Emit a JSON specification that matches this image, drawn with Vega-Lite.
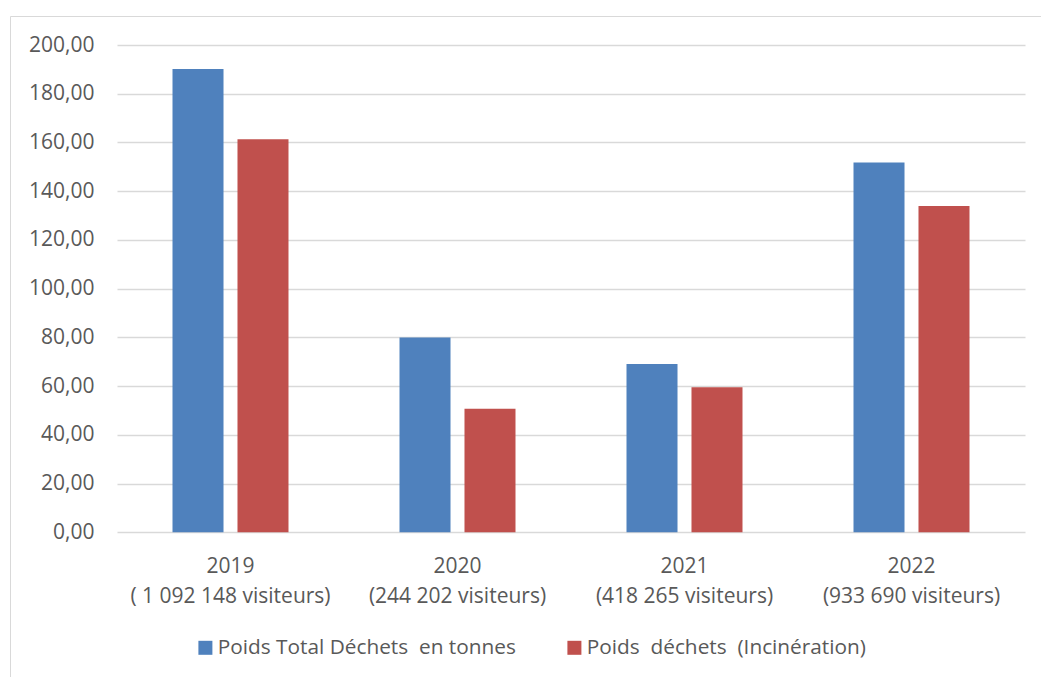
{
  "$schema": "https://vega.github.io/schema/vega-lite/v6.json",
  "autosize": "none",
  "padding": {"left": 10, "top": 16, "right": 0, "bottom": 0},
  "width": 1040,
  "height": 670,
  "background": "#ffffff",
  "data": {
    "values": [
      {"periode": "2019|( 1 092 148 visiteurs)", "serie": "Poids Total Déchets\u00a0 en tonnes", "poids": 190.1},
      {"periode": "2019|( 1 092 148 visiteurs)", "serie": "Poids\u00a0 déchets\u00a0 (Incinération)", "poids": 161.3},
      {"periode": "2020|(244 202 visiteurs)", "serie": "Poids Total Déchets\u00a0 en tonnes", "poids": 80.0},
      {"periode": "2020|(244 202 visiteurs)", "serie": "Poids\u00a0 déchets\u00a0 (Incinération)", "poids": 50.7},
      {"periode": "2021|(418 265 visiteurs)", "serie": "Poids Total Déchets\u00a0 en tonnes", "poids": 69.1},
      {"periode": "2021|(418 265 visiteurs)", "serie": "Poids\u00a0 déchets\u00a0 (Incinération)", "poids": 59.5},
      {"periode": "2022|(933 690 visiteurs)", "serie": "Poids Total Déchets\u00a0 en tonnes", "poids": 151.8},
      {"periode": "2022|(933 690 visiteurs)", "serie": "Poids\u00a0 déchets\u00a0 (Incinération)", "poids": 133.9}
    ]
  },
  "mark": {"type": "bar"},
  "encoding": {
    "x": {
      "field": "periode",
      "type": "nominal",
      "sort": null,
      "scale": {"type": "band", "range": [107, 1015], "paddingInner": 0.489, "paddingOuter": 0.2445},
      "axis": {
        "title": null,
        "orient": "bottom",
        "offset": -154,
        "domain": false,
        "ticks": false,
        "labelAngle": 0,
        "labelExpr": "split(datum.label, '|')",
        "labelBaseline": "alphabetic",
        "labelPadding": 40,
        "labelLineHeight": 30,
        "labelLimit": 0,
        "labelFontSize": 21,
        "labelColor": "#595959",
        "labelFont": "Open Sans"
      }
    },
    "xOffset": {
      "field": "serie",
      "type": "nominal",
      "sort": ["Poids Total Déchets\u00a0 en tonnes", "Poids\u00a0 déchets\u00a0 (Incinération)"],
      "scale": {"paddingInner": 0.215, "paddingOuter": 0}
    },
    "y": {
      "field": "poids",
      "type": "quantitative",
      "scale": {"domain": [0, 200], "range": [516.3, 29], "nice": false, "zero": true},
      "axis": {
        "title": null,
        "values": [0, 20, 40, 60, 80, 100, 120, 140, 160, 180, 200],
        "offset": -84,
        "domain": false,
        "ticks": false,
        "labelPadding": 0,
        "labelExpr": "replace(format(datum.value, '.2f'), '.', ',')",
        "labelFontSize": 21,
        "labelColor": "#595959",
        "labelFont": "Open Sans",
        "grid": true,
        "gridColor": "#D9D9D9",
        "gridWidth": 1.3
      }
    },
    "color": {
      "field": "serie",
      "type": "nominal",
      "scale": {
        "domain": ["Poids Total Déchets\u00a0 en tonnes", "Poids\u00a0 déchets\u00a0 (Incinération)"],
        "range": ["#4F81BD", "#C0504D"]
      },
      "legend": {
        "title": null,
        "orient": "none",
        "direction": "horizontal",
        "legendX": 185,
        "legendY": 621,
        "padding": 0,
        "symbolType": "square",
        "symbolSize": 196,
        "symbolStrokeWidth": 0,
        "symbolOpacity": 1,
        "labelOffset": 2,
        "labelLimit": 0,
        "columnPadding": 48,
        "labelFontSize": 20.8,
        "labelColor": "#595959",
        "labelFont": "Open Sans"
      }
    }
  },
  "config": {
    "font": "Open Sans",
    "view": {"stroke": "#D9D9D9", "strokeWidth": 1}
  }
}
